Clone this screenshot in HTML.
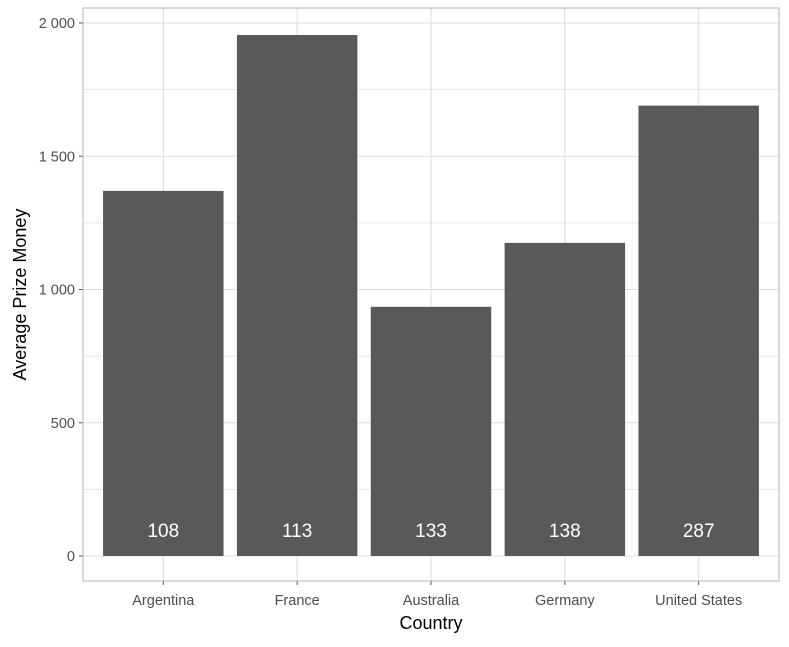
<!DOCTYPE html>
<html><head><meta charset="utf-8"><style>
body{margin:0;background:#fff;}
svg text{font-family:"Liberation Sans",Arial,sans-serif;}
</style></head><body>
<svg id="chart" width="789" height="642" viewBox="0 0 789 642" xmlns="http://www.w3.org/2000/svg">
<g id="grid"></g><g id="bars"></g><g id="axes"></g>
</svg>
<script>
const categories=["Argentina","France","Australia","Germany","United States"];
const values=[1370,1955,935,1175,1690];
const counts=["108","113","133","138","287"];
const yTicks=[0,500,1000,1500,2000];
const yTickLabels=["0","500","1 000","1 500","2 000"];
const yMinor=[250,750,1250,1750];

const L=83,R=779,T=8,B=581;
const y0=556,pxPer=(556-23)/2000;
function y(v){return y0-v*pxPer;}
const unit=(R-L)/(categories.length+0.2);
function x(i){return L+(i+0.6)*unit;}
const ns="http://www.w3.org/2000/svg";
function mk(tag,attrs,parent,txt){const e=document.createElementNS(ns,tag);for(const k in attrs)e.setAttribute(k,attrs[k]);if(txt!==undefined)e.textContent=txt;parent.appendChild(e);return e;}
const svg=document.getElementById('chart'),grid=document.getElementById('grid'),bars=document.getElementById('bars'),axes=document.getElementById('axes');
mk('rect',{x:L,y:T,width:R-L,height:B-T,fill:'#fff'},grid);
yMinor.forEach(v=>{const l=mk('line',{x1:L,x2:R,y1:y(v),y2:y(v),stroke:'#e3e3e3','stroke-width':0.8},grid);

});
yTicks.forEach((v,i)=>{const l=mk('line',{x1:L,x2:R,y1:y(v),y2:y(v),stroke:'#dedede','stroke-width':1.1},grid);


mk('line',{x1:L-4,x2:L,y1:y(v),y2:y(v),stroke:'#555','stroke-width':1},axes);
const t=mk('text',{x:L-8,y:y(v)+5,'text-anchor':'end','font-size':14.5,fill:'#4d4d4d'},axes,yTickLabels[i]);

});
categories.forEach((c,i)=>{const l=mk('line',{x1:x(i),x2:x(i),y1:T,y2:B,stroke:'#dedede','stroke-width':1.1},grid);


const w=unit*0.9;
const r=mk('rect',{x:x(i)-w/2,y:y(values[i]),width:w,height:y(0)-y(values[i]),fill:'#595959'},bars);


const lb=mk('text',{x:x(i),y:537,'text-anchor':'middle','font-size':19,fill:'#fff'},bars,counts[i]);


mk('line',{x1:x(i),x2:x(i),y1:B,y2:B+4,stroke:'#555','stroke-width':1},axes);
const t=mk('text',{x:x(i),y:605,'text-anchor':'middle','font-size':14.5,fill:'#4d4d4d'},axes,c);

});
const border=mk('rect',{x:L,y:T,width:R-L,height:B-T,fill:'none',stroke:'#b3b3b3','stroke-width':1},axes);


const xt=mk('text',{x:(L+R)/2,y:629,'text-anchor':'middle','font-size':18,fill:'#000'},axes,'Country');


const yt=mk('text',{x:0,y:0,'text-anchor':'middle','font-size':18,fill:'#000',transform:'translate(26,'+((T+B)/2)+') rotate(-90)'},axes,'Average Prize Money');


</script>
</body></html>
